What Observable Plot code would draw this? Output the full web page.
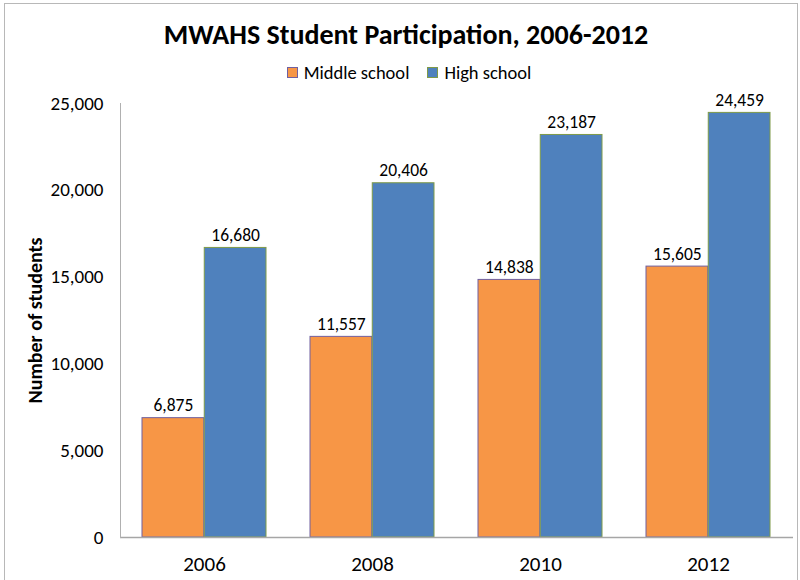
<!DOCTYPE html>
<html>
<head>
<meta charset="utf-8">
<script src="https://cdn.jsdelivr.net/npm/d3@7"></script>
<script src="https://cdn.jsdelivr.net/npm/@observablehq/plot@0.6"></script>
<style>
  body { margin: 0; background: #fff; font-family: Carlito, Lato, "Noto Sans", sans-serif; }
  #wrap { position: relative; width: 800px; height: 580px; overflow: hidden; }
  #border { position: absolute; left: 4px; top: 3px; width: 794px; height: 620px; border: 1px solid #b8b8b8; box-sizing: border-box; }
  #title { position: absolute; left: 0; width: 812px; top: 18px; text-align: center; font-size: 28px; font-weight: bold; color: #000; line-height: 34px; }
  #legend { position: absolute; left: 0; width: 818px; top: 60px; text-align: center; font-size: 18.5px; line-height: 24px; color: #000; }
  .item { display: inline-flex; align-items: center; margin: 0 9px; }
  .sw { width: 9px; height: 9px; margin-right: 6px; display: inline-block; }
  #chart { position: absolute; left: 0; top: 90px; }
</style>
</head>
<body>
<div id="wrap">
  <div id="border"></div>
  <div id="title">MWAHS Student Participation, 2006-2012</div>
  <div id="legend"></div>
  <div id="chart"></div>
</div>
<script>
const years = ["2006", "2008", "2010", "2012"];
const middleSchool = [6875, 11557, 14838, 15605];
const highSchool = [16680, 20406, 23187, 24459];
const seriesNames = ["Middle school", "High school"];
const yTicks = [0, 5000, 10000, 15000, 20000, 25000];

const fills = {"Middle school": "#F79646", "High school": "#4F81BD"};
const strokes = {"Middle school": "#7060A0", "High school": "#7F9A48"};

const legend = document.getElementById("legend");
seriesNames.forEach(s => {
  const it = document.createElement("span");
  it.className = "item";
  it.innerHTML = `<span class="sw" style="background:${fills[s]};border:1px solid ${strokes[s]}"></span>${s}`;
  legend.appendChild(it);
});

const mid = years.map((y, i) => ({year: y, value: middleSchool[i]}));
const high = years.map((y, i) => ({year: y, value: highSchool[i]}));

const width = 800, height = 490;
const mL = 120, mR = 7;
const pInner = 0.26, pOuter = 0.13;
const step = (width - mL - mR) / (years.length - pInner + 2 * pOuter);
const half = step * (1 - pInner) / 2;
const fmt = d3.format(",");

const plot = Plot.plot({
  width, height,
  marginLeft: mL, marginRight: mR, marginTop: 13, marginBottom: 43,
  style: {fontFamily: "Carlito, Lato, 'Noto Sans', sans-serif", fontSize: "17px", color: "#000", background: "transparent"},
  x: {domain: years, paddingInner: pInner, paddingOuter: pOuter, label: null},
  y: {domain: [0, 25000], label: null},
  marks: [
    Plot.barY(mid, {x: "year", y: "value", fill: fills["Middle school"], stroke: strokes["Middle school"], strokeWidth: 1, insetRight: half}),
    Plot.barY(high, {x: "year", y: "value", fill: fills["High school"], stroke: strokes["High school"], strokeWidth: 1, insetLeft: half}),
    Plot.text(mid, {x: "year", y: "value", text: d => fmt(d.value), dx: -half / 2, dy: -7, lineAnchor: "bottom", fontSize: 17.5}),
    Plot.text(high, {x: "year", y: "value", text: d => fmt(d.value), dx: half / 2, dy: -7, lineAnchor: "bottom", fontSize: 17.5}),
    Plot.ruleY([0], {stroke: "#a6a6a6", strokeWidth: 1.5}),
    Plot.frame({anchor: "left", stroke: "#b0b0b0"}),
    Plot.axisY({ticks: yTicks, tickFormat: fmt, tickSize: 0, tickPadding: 17, fontSize: 19, label: null}),
    Plot.text(["Number of students"], {frameAnchor: "left", textAnchor: "middle", lineAnchor: "middle", rotate: -90, dx: -85, fontSize: 20, fontWeight: "bold"}),
    Plot.axisX({tickSize: 0, tickPadding: 19, fontSize: 21, label: null})
  ]
});
document.getElementById("chart").appendChild(plot);
</script>
</body>
</html>
